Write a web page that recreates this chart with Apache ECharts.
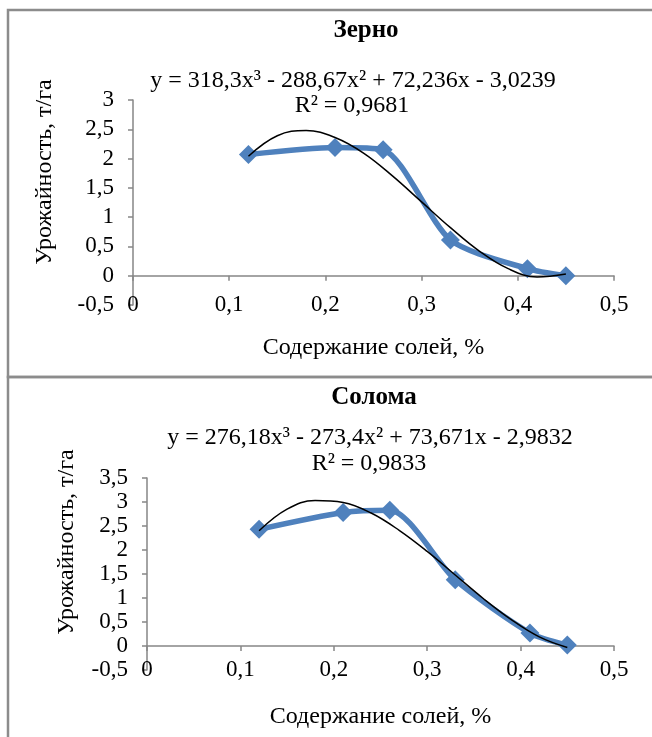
<!DOCTYPE html>
<html>
<head>
  <meta charset="utf-8">
  <script src="https://cdn.jsdelivr.net/npm/echarts@6/dist/echarts.min.js"></script>
  <style>
    html, body { margin: 0; padding: 0; background: #fff; }
    #myChart { width: 652px; height: 737px; }
  </style>
</head>
<body>
<div id="myChart"></div>
<script>
  // исходные точки (содержание солей, %)
  const saltX = [0.12, 0.21, 0.26, 0.33, 0.41, 0.45];
  const grainYield = [2.07, 2.19, 2.15, 0.61, 0.12, 0.0];
  const strawYield = [2.43, 2.78, 2.83, 1.38, 0.27, 0.02];

  // линии тренда
  const trendX = [0.12, 0.15, 0.18, 0.21, 0.24, 0.27, 0.30, 0.33, 0.36, 0.39, 0.42, 0.45];
  const grainTrend = [2.04, 2.39, 2.48, 2.36, 2.09, 1.70, 1.26, 0.82, 0.42, 0.12, -0.02, 0.03];
  const strawTrend = [2.40, 2.85, 3.03, 2.99, 2.77, 2.41, 1.97, 1.48, 0.99, 0.55, 0.19, -0.03];

  const titles = ['Зерно', 'Солома'];
  const equations = ['y = 318,3x³ - 288,67x² + 72,236x - 3,0239', 'y = 276,18x³ - 273,4x² + 73,671x - 2,9832'];
  const rSquared = ['R² = 0,9681', 'R² = 0,9833'];
  const yMax = [3, 3.5];
  const xName = 'Содержание солей, %';
  const yName = 'Урожайность, т/га';

  const FONT = '"Liberation Serif", "Times New Roman", serif';
  const AXIS_COLOR = '#868686';
  const BLUE = '#4f81bd';

  function comma(v) {
    return String(Math.round(v * 10) / 10).replace('.', ',');
  }

  function zip(xs, ys) {
    return xs.map((x, i) => [x, ys[i]]);
  }

  // два поля графиков
  const grids = [
    {left: 133, top: 100, width: 481, height: 205},
    {left: 147, top: 478, width: 467, height: 192}
  ];

  let xAxes = [];
  let yAxes = [];
  grids.forEach(function (g, i) {
    // ось на нуле (линия + засечки)
    xAxes.push({
      type: 'value', gridIndex: i, position: 'bottom',
      min: 0, max: 0.5, interval: 0.1,
      axisLine: {show: true, onZero: true, lineStyle: {color: AXIS_COLOR, width: 1.5}},
      axisTick: {show: true, length: 5, lineStyle: {color: AXIS_COLOR, width: 1.5}},
      axisLabel: {show: false},
      splitLine: {show: false}
    });
    // подписи внизу
    xAxes.push({
      type: 'value', gridIndex: i, position: 'bottom',
      min: 0, max: 0.5, interval: 0.1,
      axisLine: {show: false, onZero: false},
      axisTick: {show: false},
      axisLabel: {
        margin: 0, verticalAlign: 'middle', color: '#000',
        fontFamily: FONT, fontSize: 23, formatter: comma
      },
      splitLine: {show: false},
      name: xName, nameLocation: 'middle', nameGap: i === 0 ? 31 : 35,
      nameTextStyle: {color: '#000', fontFamily: FONT, fontSize: 24, verticalAlign: 'top'}
    });
    yAxes.push({
      type: 'value', gridIndex: i,
      min: -0.5, max: yMax[i], interval: 0.5,
      axisLine: {show: true, onZero: false, lineStyle: {color: AXIS_COLOR, width: 1.5}},
      axisTick: {show: true, length: 5, lineStyle: {color: AXIS_COLOR, width: 1.5}},
      axisLabel: {margin: 19, color: '#000', fontFamily: FONT, fontSize: 23, formatter: comma},
      splitLine: {show: false}
    });
  });

  const dataSeries = [grainYield, strawYield];
  const trendSeries = [grainTrend, strawTrend];
  let series = [];
  for (let i = 0; i < 2; i++) {
    series.push({
      type: 'line', xAxisIndex: i * 2, yAxisIndex: i,
      data: zip(saltX, dataSeries[i]),
      smooth: 0.25,
      symbol: 'diamond', symbolSize: 19,
      lineStyle: {color: BLUE, width: 5.5},
      itemStyle: {color: BLUE},
      z: 2
    });
    series.push({
      type: 'line', xAxisIndex: i * 2, yAxisIndex: i,
      data: zip(trendX, trendSeries[i]),
      smooth: 0.4,
      showSymbol: false,
      lineStyle: {color: '#000', width: 1.5},
      z: 3
    });
  }

  // рамки, заголовки, уравнения
  const txt = (x, y, text, extra) => Object.assign({
    type: 'text', x: x, y: y,
    style: {text: text, fill: '#000', font: '24px ' + FONT, textAlign: 'center', textVerticalAlign: 'middle'}
  }, extra || {});

  let graphic = [
    {type: 'rect', shape: {x: 8, y: 10, width: 660, height: 367}, style: {fill: 'none', stroke: '#8c8c8c', lineWidth: 2.5}},
    {type: 'rect', shape: {x: 8, y: 377, width: 660, height: 380}, style: {fill: 'none', stroke: '#8c8c8c', lineWidth: 2.5}},
    txt(366, 31, titles[0]),
    txt(374, 398, titles[1]),
    txt(353, 81, equations[0]),
    txt(352, 106, rSquared[0]),
    txt(370, 438, equations[1]),
    txt(369, 464, rSquared[1]),
    txt(45, 172, yName, {rotation: Math.PI / 2}),
    txt(67, 542, yName, {rotation: Math.PI / 2})
  ];
  graphic[2].style.font = 'bold 25px ' + FONT;
  graphic[3].style.font = 'bold 25px ' + FONT;

  let chart = echarts.init(document.getElementById('myChart'));
  chart.setOption({
    animation: false,
    backgroundColor: '#fff',
    grid: grids,
    xAxis: xAxes,
    yAxis: yAxes,
    series: series,
    graphic: graphic
  });
</script>
</body>
</html>
